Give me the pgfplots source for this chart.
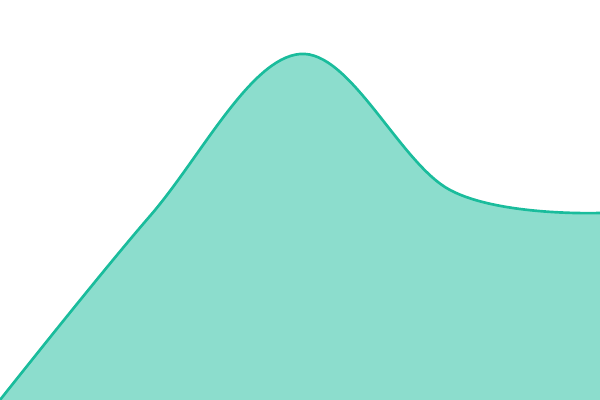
\documentclass[border=0pt]{standalone}
\usepackage{pgfplots}
\pgfplotsset{compat=1.18}
\definecolor{teal1}{HTML}{1ABC9C}
\begin{document}
\begin{tikzpicture}
\begin{axis}[
  hide axis, scale only axis,
  width=450pt, height=300pt,
  xmin=0, xmax=4, ymin=0, ymax=400,
  clip=true,
]
\addplot[draw=none, fill=teal1, fill opacity=0.5, smooth, tension=0.6]
  coordinates {(0,0) (1,184) (2,346) (3,210) (4,187)} \closedcycle;
\addplot[teal1, line width=2pt, smooth, tension=0.6]
  coordinates {(0,0) (1,184) (2,346) (3,210) (4,187)};
\end{axis}
\pgfresetboundingbox
\path[use as bounding box] (current axis.south west) rectangle (current axis.north east);
\end{tikzpicture}
\end{document}
